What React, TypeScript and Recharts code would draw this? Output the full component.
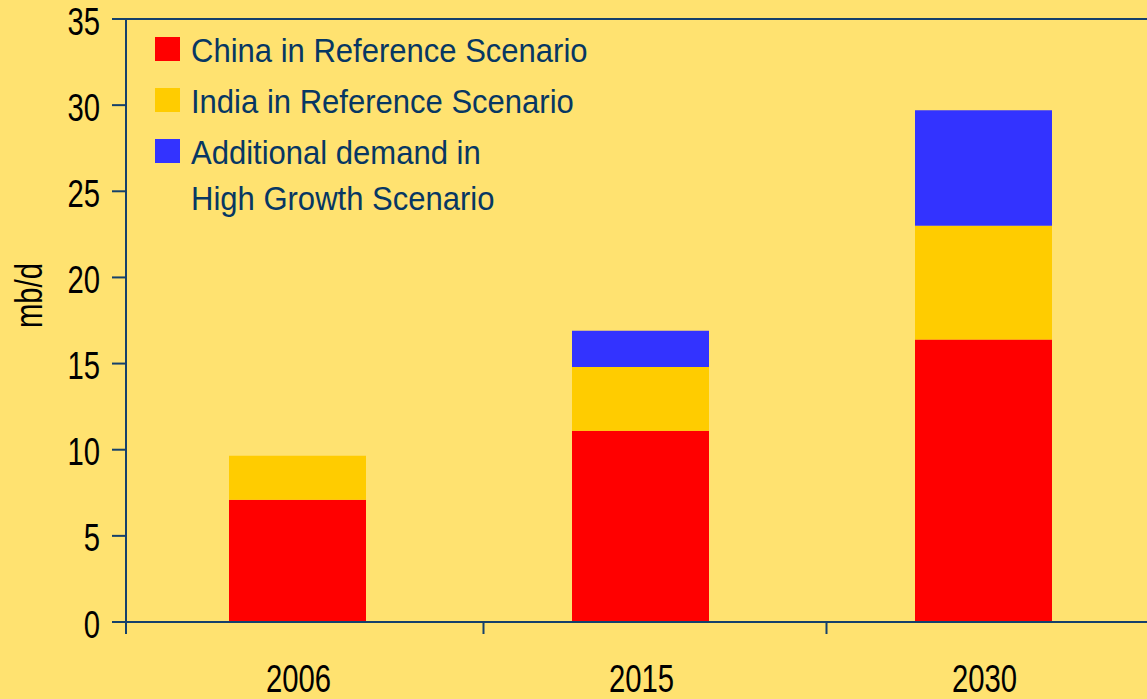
import { BarChart, Bar, XAxis, YAxis, ReferenceLine, Legend } from 'recharts';

const years = ['2006', '2015', '2030'];
const china = [7.1, 11.1, 16.4];
const india = [2.55, 3.7, 6.6];
const additional = [0, 2.1, 6.7];
const yTicks = [0, 5, 10, 15, 20, 25, 30, 35];

const seriesNames = ['China in Reference Scenario', 'India in Reference Scenario', 'Additional demand in\nHigh Growth Scenario'];
const COLORS = ['#FF0000', '#FFCC00', '#3333FF'];

const BG = '#FFE270';
const NAVY = '#15406B';
const TEXT_NAVY = '#073763';
const AXIS_FONT = "'Liberation Sans', Arial, sans-serif";

const data = years.map((year, i) => ({
  year,
  china: china[i],
  india: india[i],
  additional: additional[i],
}));

// narrow-looking axis text: regular font squeezed horizontally
function YTick(props: any) {
  const { x, y, payload } = props;
  return (
    <text
      transform={`translate(${x},${y + 15.5}) scale(0.77,1)`}
      textAnchor="end"
      fontFamily={AXIS_FONT}
      fontSize={38}
      fill="#000"
    >
      {payload.value}
    </text>
  );
}

function XTick(props: any) {
  const { x, y, payload, index } = props;
  return (
    <g>
      {index === 0 && <line x1={x - 171.5} x2={x - 171.5} y1={y} y2={y + 12} stroke={NAVY} strokeWidth={2} />}
      <line x1={x + 186} x2={x + 186} y1={y} y2={y + 12} stroke={NAVY} strokeWidth={2} />
      <text
        transform={`translate(${x + 1},${y + 70}) scale(0.77,1)`}
        textAnchor="middle"
        fontFamily={AXIS_FONT}
        fontSize={38}
        fill="#000"
      >
        {payload.value}
      </text>
    </g>
  );
}

function YLabel(props: any) {
  const { viewBox } = props;
  const cy = viewBox.y + viewBox.height / 2 - 25;
  return (
    <text
      transform={`translate(42,${cy}) rotate(-90) scale(0.77,1)`}
      textAnchor="middle"
      fontFamily={AXIS_FONT}
      fontSize={38}
      fill="#000"
    >
      mb/d
    </text>
  );
}

function renderLegend(props: any) {
  const items = [...(props.payload || [])].sort(
    (a: any, b: any) => seriesNames.indexOf(a.value) - seriesNames.indexOf(b.value)
  );
  return (
    <div style={{ fontFamily: AXIS_FONT }}>
      {items.map((entry: any, i: number) => (
        <div key={`leg-${i}`} style={{ display: 'flex', alignItems: 'flex-start', marginBottom: 5 }}>
          <div style={{ width: 25, height: 24, marginTop: 9, background: entry.color, flexShrink: 0 }} />
          <div
            style={{
              marginLeft: 11,
              fontSize: 33,
              lineHeight: '46px',
              color: TEXT_NAVY,
              whiteSpace: 'pre',
              textAlign: 'left',
              transform: 'scaleX(0.94)',
              transformOrigin: 'left top',
            }}
          >
            {entry.value}
          </div>
        </div>
      ))}
    </div>
  );
}

export default function App() {
  return (
    <div style={{ position: 'absolute', left: 0, top: 0, width: 1147, height: 699, overflow: 'hidden', background: BG }}>
      <BarChart width={1160} height={699} data={data} margin={{ top: 19, right: 5, bottom: 0, left: 0 }}>
        <YAxis
          type="number"
          domain={[0, 35]}
          ticks={yTicks}
          width={126}
          tickSize={14}
          tickMargin={12}
          axisLine={{ stroke: NAVY, strokeWidth: 2 }}
          tickLine={{ stroke: NAVY, strokeWidth: 2 }}
          tick={<YTick />}
          interval={0}
          label={<YLabel />}
        />
        <XAxis
          dataKey="year"
          height={77}
          tickSize={0}
          tickMargin={0}
          tickLine={false}
          axisLine={{ stroke: NAVY, strokeWidth: 2 }}
          tick={<XTick />}
          interval={0}
        />
        <ReferenceLine y={35} stroke={NAVY} strokeWidth={2} />
        <Legend
          layout="vertical"
          align="center"
          verticalAlign="middle"
          wrapperStyle={{ left: 155, top: 28, width: 600 }}
          content={renderLegend}
        />
        <Bar dataKey="china" name={seriesNames[0]} stackId="a" fill={COLORS[0]} barSize={137} isAnimationActive={false} />
        <Bar dataKey="india" name={seriesNames[1]} stackId="a" fill={COLORS[1]} barSize={137} isAnimationActive={false} />
        <Bar dataKey="additional" name={seriesNames[2]} stackId="a" fill={COLORS[2]} barSize={137} isAnimationActive={false} />
      </BarChart>
    </div>
  );
}
